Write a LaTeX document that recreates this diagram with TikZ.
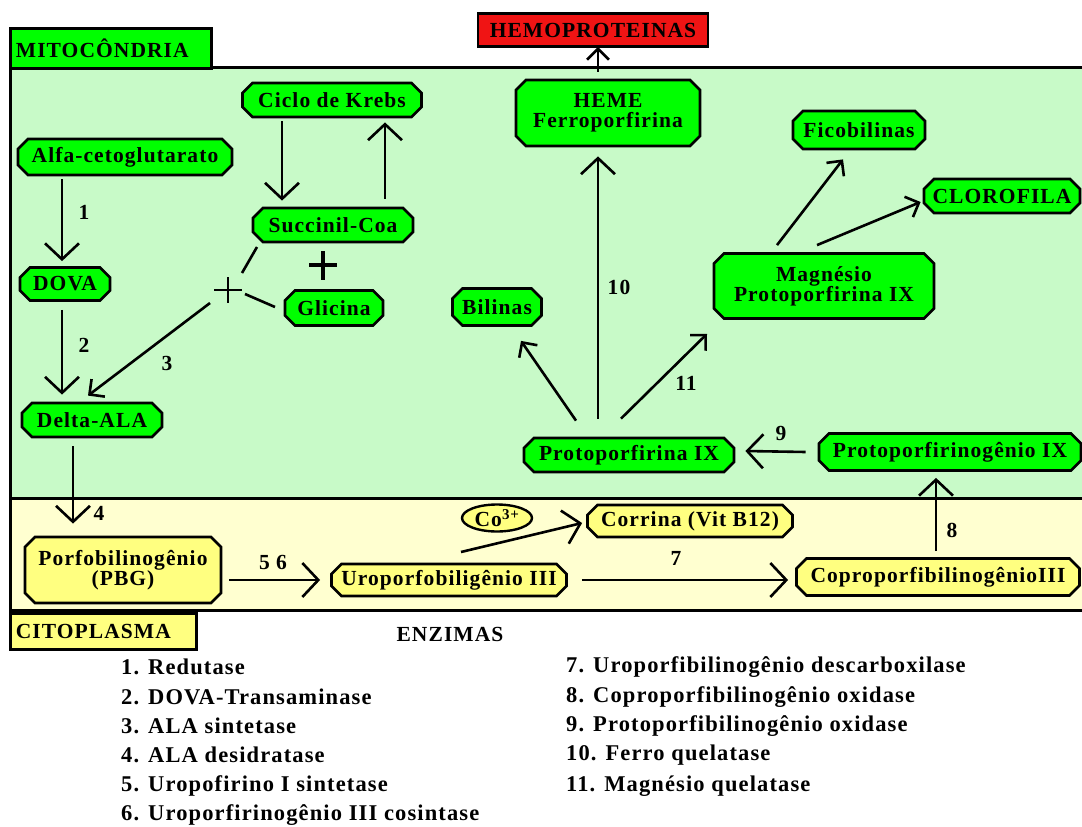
\documentclass[tikz,border=0pt]{standalone}
\usepackage{fontspec}
\setmainfont{Liberation Serif}[LetterSpace=5]
\usetikzlibrary{shapes.misc,shapes.geometric,arrows.meta,calc}
\definecolor{mitobg}{RGB}{200,250,200}
\definecolor{cytobg}{RGB}{255,255,208}
\definecolor{ngreen}{RGB}{0,255,0}
\definecolor{nyellow}{RGB}{255,255,128}
\definecolor{nred}{RGB}{240,20,20}
\tikzset{
  txt/.style={font=\bfseries\fontsize{21.5}{23}\selectfont},
  lbl/.style={txt},
  box/.style={chamfered rectangle, chamfered rectangle xsep=5pt, chamfered rectangle ysep=5pt,
    draw=black, line width=2.8pt, inner sep=0pt, align=center, txt},
  gbox/.style={box, fill=ngreen},
  ybox/.style={box, fill=nyellow},
  tab/.style={rectangle, draw=black, line width=2.8pt, inner sep=0pt, anchor=north west, txt},
  arr/.style={line width=2.6pt, -{Straight Barb[length=16pt,width=34pt,line width=2.6pt]}},
  darr/.style={line width=2.6pt, -{Straight Barb[length=11pt,width=22pt,line width=2.6pt]}},
  ln/.style={line width=2.6pt},
  leg/.style={anchor=west, inner sep=0pt, font=\bfseries\fontsize{22.5}{24}\selectfont},
}
\begin{document}
\begin{tikzpicture}[x=1pt,y=-1pt]
\useasboundingbox (0,0) rectangle (1082,827);
% regions
\fill[mitobg] (10,67) rectangle (1090,498);
\fill[cytobg] (10,498) rectangle (1090,610);
\draw[line width=3pt] (1090,67) -- (10,67) -- (10,610) -- (1090,610);
\draw[line width=3pt] (10,498) -- (1090,498);
% tabs
\node[tab, fill=ngreen, minimum width=201pt, minimum height=40pt, text width=198pt, align=left] (mito) at (9,27) {\hspace{4pt}MITOCÔNDRIA};
\node[tab, fill=nyellow, minimum width=186pt, minimum height=36pt, text width=183pt, align=left] (cito) at (9,612) {\hspace{4pt}CITOPLASMA};
\node[rectangle, draw=black, line width=2.8pt, fill=nred, minimum width=230pt, minimum height=33pt, inner sep=0pt, txt] (hemo) at (593,30) {HEMOPROTEINAS};
% nodes
\node[gbox, minimum width=179pt, minimum height=34pt] (krebs) at (332,100) {Ciclo de Krebs};
\node[gbox, minimum width=214pt, minimum height=36pt] (alfa) at (125,157) {Alfa-cetoglutarato};
\node[gbox, minimum width=160pt, minimum height=34pt] (succ) at (333,225) {Succinil-Coa};
\node[gbox, minimum width=90pt, minimum height=33pt] (dova) at (65,284) {DOVA};
\node[gbox, minimum width=98pt, minimum height=35pt] (glic) at (334,308) {Glicina};
\node[gbox, minimum width=140pt, minimum height=34pt] (dala) at (92,420) {Delta-ALA};
\node[gbox, minimum width=184pt, minimum height=66pt] (heme) at (608,113) {HEME\\[-3pt]Ferroporfirina};
\node[gbox, minimum width=132pt, minimum height=38pt] (fico) at (859,130) {Ficobilinas};
\node[gbox, minimum width=156pt, minimum height=34pt] (cloro) at (1002,196) {CLOROFILA};
\node[gbox, minimum width=89pt, minimum height=37pt] (bil) at (497,307) {Bilinas};
\node[gbox, minimum width=220pt, minimum height=65pt] (mg) at (824,286) {Magnésio\\[-3pt]Protoporfirina IX};
\node[gbox, minimum width=210pt, minimum height=34pt] (proto) at (629,455) {Protoporfirina IX};
\node[gbox, minimum width=262pt, minimum height=37pt] (protogen) at (950,452) {Protoporfirinogênio IX};
\node[ybox, minimum width=196pt, minimum height=66pt] (pbg) at (123,570) {Porfobilinogênio\\[-3pt](PBG)};
\node[ybox, minimum width=235pt, minimum height=32pt] (uro) at (449,580) {Uroporfobiligênio III};
\node[ybox, minimum width=283pt, minimum height=37pt] (copro) at (938,577) {CoproporfibilinogênioIII};
\node[ybox, minimum width=205pt, minimum height=32pt] (corr) at (690,521) {Corrina (Vit B12)};
\node[ellipse, draw=black, line width=2.4pt, fill=nyellow, inner sep=0pt, minimum width=70pt, minimum height=27pt, txt] (co) at (497,518) {Co\textsuperscript{3+}};
% junction
\coordinate (j) at (228,290);
\draw[line width=1.4pt] ($(j)+(-14,0)$) -- ($(j)+(14,0)$) ($(j)+(0,-13)$) -- ($(j)+(0,13)$);
\draw[line width=3.2pt] (309,265) -- (337,265) (323,251) -- (323,280);
\coordinate (succout) at (257,247);
\coordinate (succin) at (242,273);
\draw[ln] (succout) -- (succin);
\coordinate (glicout) at (275,307);
\coordinate (glicin) at (245,294);
\draw[ln] (glicout) -- (glicin);
\coordinate (jout) at (210,303);
\draw[darr] (jout) -- ($(dala.north)+(-4,-6)$);
% arrows mitochondria
\draw[arr] ($(alfa.south)+(-63,3)$) -- ($(dova.north)+(-3,-5)$);
\draw[arr] ($(dova.south)+(-3,8)$) -- ($(dala.north)+(-30,-7)$);
\draw[arr] ($(krebs.south)+(-50,3)$) -- ($(succ.north)+(-51,-6)$);
\draw[arr] ($(succ.north)+(52,-8)$) -- ($(krebs.south)+(53,4)$);
\draw[arr] ($(dala.south)+(-19,8)$) -- ($(pbg.north)+(-50,-12)$);
\draw[arr] ($(proto.north)+(-31,-18)$) -- ($(heme.south)+(-10,9)$);
\draw[darr] ($(proto.north)+(-53,-16)$) -- ($(bil.south)+(24,14)$);
\draw[darr] ($(proto.north)+(-8,-18)$) -- ($(mg.south)+(-117,14)$);
\draw[darr] ($(heme.north)+(-10,-7)$) -- ($(hemo.south)+(5,-1)$);
\draw[darr] ($(mg.north)+(-47,-7)$) -- ($(fico.south)+(-16,9)$);
\draw[darr] ($(mg.north)+(-7,-7)$) -- ($(cloro.west)+(-2,6)$);
\draw[arr] ($(protogen.west)+(-12,0)$) -- ($(proto.east)+(10,-4)$);
\draw[arr] ($(copro.north)+(-2,-6)$) -- ($(protogen.south)+(-14,6)$);
% arrows cytoplasm
\draw[arr] ($(pbg.east)+(7,10)$) -- ($(uro.west)+(-10,0)$);
\draw[arr] ($(uro.east)+(14,0)$) -- ($(copro.west)+(-7,3)$);
\coordinate (coout) at (461,552);
\draw[arr] (coout) -- ($(corr.west)+(-4,2)$);
% enzyme numbers
\node[lbl] (n1) at (84,212) {1};
\node[lbl] (n2) at (84,345) {2};
\node[lbl] (n3) at (167,363) {3};
\node[lbl] (n4) at (99,513) {4};
\node[lbl] (n56) at (273,562) {5 6};
\node[lbl] (n7) at (676,558) {7};
\node[lbl] (n8) at (952,530) {8};
\node[lbl] (n9) at (781,433) {9};
\node[lbl] (n10) at (619,287) {10};
\node[lbl] (n11) at (686,383) {11};
% legend
\node[txt] (enz) at (450,634) {ENZIMAS};
\node[leg] (l1) at (121,667) {1. Redutase};
\node[leg] (l2) at (121,697) {2. DOVA-Transaminase};
\node[leg] (l3) at (121,726) {3. ALA sintetase};
\node[leg] (l4) at (121,755) {4. ALA desidratase};
\node[leg] (l5) at (121,786) {5. Uropofirino I sintetase};
\node[leg] (l6) at (121,815) {6. Uroporfirinogênio III cosintase};
\node[leg] (l7) at (566,667) {7. Uroporfibilinogênio descarboxilase};
\node[leg] (l8) at (566,697) {8. Coproporfibilinogênio oxidase};
\node[leg] (l9) at (566,726) {9. Protoporfibilinogênio oxidase};
\node[leg] (l10) at (566,755) {10. Ferro quelatase};
\node[leg] (l11) at (566,786) {11. Magnésio quelatase};
\end{tikzpicture}
\end{document}
